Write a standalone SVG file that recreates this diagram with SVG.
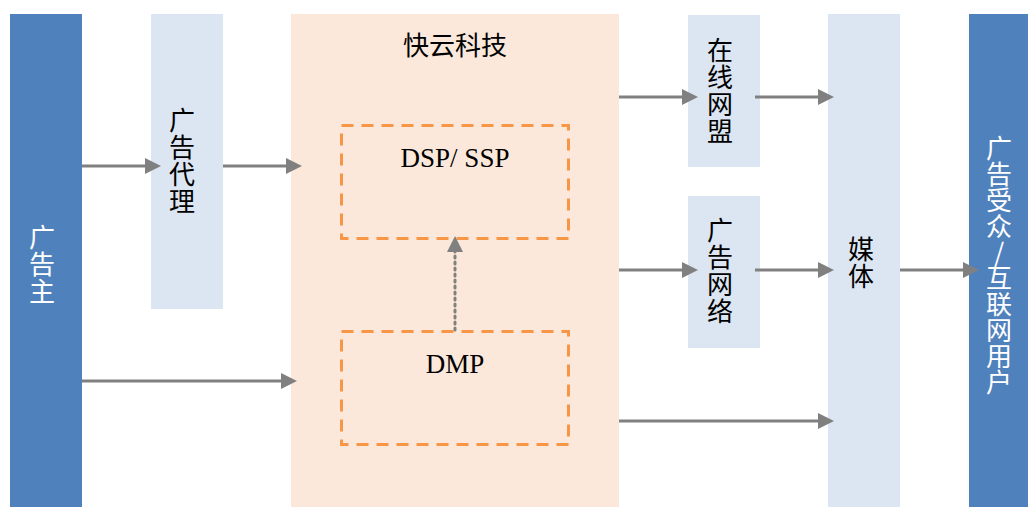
<svg xmlns="http://www.w3.org/2000/svg" width="1028" height="507" viewBox="0 0 1028 507">
<style>
.dark{fill:#4F81BD}
.light{fill:#DCE6F2}
.peach{fill:#FCE8DA}
.dash{fill:none;stroke:#F79646;stroke-width:3;stroke-dasharray:12,8}
.cn{font-family:"Noto Sans CJK SC","Noto Sans CJK JP",sans-serif;font-size:26px;text-anchor:middle}
.vt{writing-mode:vertical-rl;text-orientation:upright;letter-spacing:1px}
.en{font-family:"Liberation Serif",serif;font-size:27px;text-anchor:middle;fill:#000}
.arr{stroke:#808080;stroke-width:3;fill:none}
</style>
<defs>
<marker id="ah2" markerWidth="16" markerHeight="16" refX="12" refY="8" orient="auto" markerUnits="userSpaceOnUse" viewBox="0 0 16 16">
<path d="M0,0 L16,8 L0,16 z" fill="#808080"/>
</marker>
</defs>
<rect width="1028" height="507" fill="#fff"/>
<g id="advertiser"><rect class="dark" x="10" y="14" width="72" height="493"/>
<text class="cn vt" fill="#fff" x="42" y="265">广告主</text></g>
<g id="agency"><rect class="light" x="151" y="14" width="72" height="295"/>
<text class="cn vt" fill="#000" x="182" y="161">广告代理</text></g>
<g id="kuaiyun"><rect class="peach" x="291" y="14" width="328" height="493"/>
<text class="cn" fill="#000" x="455" y="55" font-size="27">快云科技</text></g>
<g id="dsp"><rect class="dash" x="341.5" y="125.5" width="227" height="113"/>
<text class="en" x="455" y="167">DSP/ SSP</text></g>
<g id="dmp"><rect class="dash" x="341.5" y="331.5" width="227" height="113"/>
<text class="en" x="455" y="373">DMP</text></g>
<g id="alliance"><rect class="light" x="688" y="15" width="72" height="152"/>
<text class="cn vt" fill="#000" x="720" y="91">在线网盟</text></g>
<g id="adnetwork"><rect class="light" x="688" y="196" width="72" height="152"/>
<text class="cn vt" fill="#000" x="720" y="271">广告网络</text></g>
<g id="media"><rect class="light" x="828" y="14" width="72" height="493"/>
<text class="cn vt" fill="#000" x="861" y="263">媒体</text></g>
<g id="audience"><rect class="dark" x="969" y="14" width="59" height="493"/>
<text class="cn vt" fill="#fff" font-size="25" x="999" y="265" style="letter-spacing:0">广告受众/互联网用户</text></g>
<g id="connectors">
<line class="arr" x1="82" y1="166" x2="157" y2="166" marker-end="url(#ah2)"/>
<line class="arr" x1="223" y1="166" x2="298" y2="166" marker-end="url(#ah2)"/>
<line class="arr" x1="82" y1="381" x2="293" y2="381" marker-end="url(#ah2)"/>
<line class="arr" x1="619" y1="97" x2="694" y2="97" marker-end="url(#ah2)"/>
<line class="arr" x1="755" y1="97" x2="830" y2="97" marker-end="url(#ah2)"/>
<line class="arr" x1="619" y1="270" x2="694" y2="270" marker-end="url(#ah2)"/>
<line class="arr" x1="755" y1="270" x2="830" y2="270" marker-end="url(#ah2)"/>
<line class="arr" x1="900" y1="270" x2="975" y2="270" marker-end="url(#ah2)"/>
<line class="arr" x1="619" y1="421" x2="830" y2="421" marker-end="url(#ah2)"/>
<line x1="455" y1="330" x2="455" y2="240" stroke="#808080" stroke-width="3" stroke-dasharray="2,4" stroke-linecap="round" marker-end="url(#ah2)"/>
</g>
</svg>
